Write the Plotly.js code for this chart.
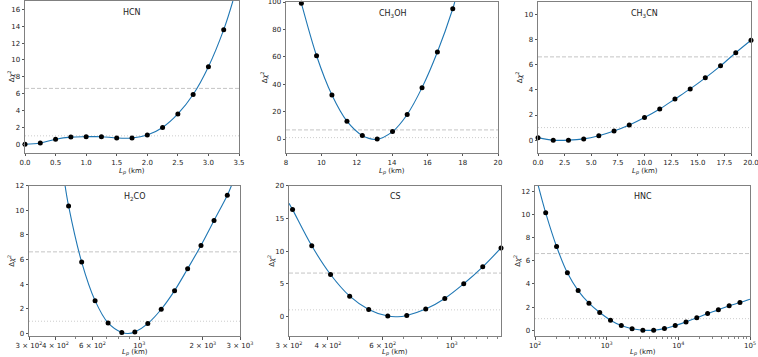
<!DOCTYPE html>
<html>
<head>
<meta charset="utf-8">
<script src="https://cdn.plot.ly/plotly-3.0.1.min.js"></script>
<style>html,body{margin:0;padding:0;background:#fff}#chart{width:758px;height:357px}</style>
</head>
<body>
<div id="chart"></div>
<script>
// ---- data ----
const hcnX = [0, 0.25, 0.5, 0.75, 1.0, 1.25, 1.5, 1.75, 2.0, 2.25, 2.5, 2.75, 3.0, 3.25];
const hcnY = [0.0, 0.15, 0.6, 0.85, 0.9, 0.9, 0.75, 0.75, 1.1, 2.0, 3.6, 5.9, 9.2, 13.6];
const hcnCurveX = [0, 0.25, 0.5, 0.75, 1.0, 1.25, 1.5, 1.75, 2.0, 2.25, 2.5, 2.75, 3.0, 3.25, 3.4];
const hcnCurveY = [0.0, 0.15, 0.6, 0.85, 0.9, 0.9, 0.75, 0.75, 1.1, 2.0, 3.6, 5.9, 9.2, 13.6, 17.0];

const ch3ohX = [8.87, 9.73, 10.6, 11.45, 12.32, 13.16, 14.03, 14.86, 15.7, 16.57, 17.44];
const ch3ohY = [99, 60.8, 32.1, 13, 2.5, 0.0, 5.4, 17.9, 37.5, 63.5, 95.1];
const ch3ohCurveX = [8.8, 8.87, 9.73, 10.6, 11.45, 12.32, 13.1, 14.03, 14.86, 15.7, 16.57, 17.44, 17.55];
const ch3ohCurveY = [102, 99, 60.8, 32.1, 13, 2.5, -0.3, 5.4, 17.9, 37.5, 63.5, 95.1, 100];

const ch3cnX = [0, 1.43, 2.86, 4.29, 5.71, 7.14, 8.57, 10.0, 11.43, 12.86, 14.29, 15.71, 17.14, 18.57, 20.0];
const ch3cnY = [0.2, 0.0, 0.0, 0.1, 0.35, 0.72, 1.2, 1.8, 2.48, 3.28, 4.08, 4.96, 5.92, 6.96, 7.95];

const h2coX = [462, 533, 617, 711, 826, 952, 1097, 1270, 1469, 1694, 1960, 2260, 2612];
const h2coY = [10.36, 5.8, 2.67, 0.86, 0.08, 0.13, 0.81, 1.97, 3.48, 5.26, 7.15, 9.17, 11.22];
const h2coCurveX = [443, 462, 533, 617, 711, 826, 885, 952, 1097, 1270, 1469, 1694, 1960, 2260, 2612, 2761];
const h2coCurveY = [12.2, 10.36, 5.8, 2.67, 0.86, 0.08, 0.0, 0.13, 0.81, 1.97, 3.48, 5.26, 7.15, 9.17, 11.22, 12.2];

const csX = [308, 355, 408, 470, 541, 623, 717, 825, 950, 1093, 1258, 1440];
const csY = [16.34, 10.8, 6.41, 3.1, 1.07, 0.05, 0.15, 1.12, 2.75, 4.99, 7.58, 10.48];
const csCurveX = [300, 308, 355, 408, 470, 541, 623, 670, 717, 825, 950, 1093, 1258, 1440];
const csCurveY = [17.3, 16.34, 10.8, 6.41, 3.1, 1.07, 0.05, -0.05, 0.15, 1.12, 2.75, 4.99, 7.58, 10.48];

const hncX = [141, 200, 283, 400, 566, 800, 1131, 1600, 2263, 3200, 4525, 6400, 9051, 12800, 18102, 25600, 36204, 51200, 72408];
const hncY = [10.15, 7.24, 4.96, 3.43, 2.34, 1.53, 0.87, 0.40, 0.12, 0.0, 0.0, 0.14, 0.40, 0.72, 1.07, 1.44, 1.76, 2.11, 2.39];
const hncCurveX = [111, 141, 200, 283, 400, 566, 800, 1131, 1600, 2263, 3200, 4525, 6400, 9051, 12800, 18102, 25600, 36204, 51200, 72408, 100000];
const hncCurveY = [12.5, 10.15, 7.24, 4.96, 3.43, 2.34, 1.53, 0.87, 0.40, 0.12, 0.0, 0.0, 0.14, 0.40, 0.72, 1.07, 1.44, 1.76, 2.11, 2.39, 2.68];

const molecules = ["HCN", "CH<sub>3</sub>OH", "CH<sub>3</sub>CN", "H<sub>2</sub>CO", "CS", "HNC"];
const thresholds = [1.0, 6.63];

const h2coTickVals = [300, 400, 600, 1000, 2000, 3000];
const h2coTickText = ["3 × 10<sup>2</sup>", "4 × 10<sup>2</sup>", "6 × 10<sup>2</sup>", "10<sup>3</sup>", "2 × 10<sup>3</sup>", "3 × 10<sup>3</sup>"];
const csTickVals = [300, 400, 600, 1000];
const csTickText = ["3 × 10<sup>2</sup>", "4 × 10<sup>2</sup>", "6 × 10<sup>2</sup>", "10<sup>3</sup>"];
const hncTickVals = [100, 1000, 10000, 100000];
const hncTickText = ["10<sup>2</sup>", "10<sup>3</sup>", "10<sup>4</sup>", "10<sup>5</sup>"];

// ---- build ----
const W = 758, H = 357;
const fx = p => p / W, fy = p => 1 - p / H;
const panels = [
  {px: [hcnX, hcnY], cv: [hcnCurveX, hcnCurveY], xd: [25, 239], yd: [1, 152.7], yt: 10.5, xt: 171},
  {px: [ch3ohX, ch3ohY], cv: [ch3ohCurveX, ch3ohCurveY], xd: [286, 498], yd: [2, 152.7], yt: 264, xt: 171},
  {px: [ch3cnX, ch3cnY], cv: [ch3cnX, ch3cnY], xd: [538, 751], yd: [2, 152.7], yt: 519, xt: 171},
  {px: [h2coX, h2coY], cv: [h2coCurveX, h2coCurveY], xd: [29, 240], yd: [185.7, 336], yt: 11, xt: 352.3},
  {px: [csX, csY], cv: [csCurveX, csCurveY], xd: [289, 501], yd: [185.7, 336], yt: 271, xt: 352.3},
  {px: [hncX, hncY], cv: [hncCurveX, hncCurveY], xd: [535, 750], yd: [185.7, 336], yt: 517, xt: 352.3}
];

const font = {family: "DejaVu Sans, sans-serif", size: 7, color: "#222"};
const titleFont = {family: "DejaVu Sans, sans-serif", size: 7, color: "#222"};
const axisBase = {
  showline: true, mirror: true, linecolor: "#808080", linewidth: 1,
  ticks: "outside", ticklen: 2.5, tickwidth: 1, tickcolor: "#555",
  showgrid: false, zeroline: false, tickfont: font, tickangle: 0,
  ticklabeloverflow: "allow", automargin: false
};
const xTitle = "<i>L<sub>p</sub></i> (km)";
const yTitle = "Δ<i>χ</i><sup>2</sup>";

const minorStyle = {ticks: "outside", ticklen: 1.5, tickwidth: 0.8, tickcolor: "#666"};
const xCfg = [
  {range: [0, 3.5], tickvals: [0, 0.5, 1, 1.5, 2, 2.5, 3, 3.5], tickformat: ".1f"},
  {range: [8, 20], tickvals: [8, 10, 12, 14, 16, 18, 20]},
  {range: [0, 20], tickvals: [0, 2.5, 5, 7.5, 10, 12.5, 15, 17.5, 20], tickformat: ".1f"},
  {type: "log", range: [Math.log10(300), Math.log10(3000)], tickvals: h2coTickVals, ticktext: h2coTickText,
   minor: Object.assign({tickvals: [500, 700, 800, 900]}, minorStyle)},
  {type: "log", range: [Math.log10(300), Math.log10(1440)], tickvals: csTickVals, ticktext: csTickText,
   minor: Object.assign({tickvals: [500, 700, 800, 900, 1100, 1200, 1300, 1400]}, minorStyle)},
  {type: "log", range: [2, 5], tickvals: hncTickVals, ticktext: hncTickText,
   minor: Object.assign({tickvals: [200,300,400,500,600,700,800,900,2000,3000,4000,5000,6000,7000,8000,9000,20000,30000,40000,50000,60000,70000,80000,90000]}, minorStyle)}
];
const yCfg = [
  {range: [-1, 17], tickvals: [0, 2, 4, 6, 8, 10, 12, 14, 16]},
  {range: [-10, 100], tickvals: [0, 20, 40, 60, 80, 100]},
  {range: [-1, 11], tickvals: [0, 2, 4, 6, 8, 10]},
  {range: [-0.2, 12], tickvals: [0, 2, 4, 6, 8, 10, 12]},
  {range: [-3, 20], tickvals: [0, 5, 10, 15, 20]},
  {range: [-0.5, 12.5], tickvals: [0, 2, 4, 6, 8, 10, 12]}
];

const traces = [];
const layout = {
  width: W, height: H, margin: {l: 0, r: 0, t: 0, b: 0},
  paper_bgcolor: "#fff", plot_bgcolor: "#fff", showlegend: false,
  font: font, shapes: [], annotations: []
};

panels.forEach((p, i) => {
  const n = i + 1;
  const xa = "x" + (n === 1 ? "" : n), ya = "y" + (n === 1 ? "" : n);
  const xk = "xaxis" + (n === 1 ? "" : n), yk = "yaxis" + (n === 1 ? "" : n);
  traces.push({x: p.cv[0], y: p.cv[1], xaxis: xa, yaxis: ya, mode: "lines",
    line: {color: "#1f77b4", width: 1.1, shape: "spline", smoothing: 1.0}, hoverinfo: "skip"});
  traces.push({x: p.px[0], y: p.px[1], xaxis: xa, yaxis: ya, mode: "markers",
    marker: {color: "#000", size: 5}, cliponaxis: false});
  layout[xk] = Object.assign({}, axisBase, xCfg[i], {domain: [fx(p.xd[0]), fx(p.xd[1])], anchor: ya});
  layout[yk] = Object.assign({}, axisBase, yCfg[i], {domain: [fy(p.yd[1]), fy(p.yd[0])], anchor: xa});
  thresholds.forEach((t, k) => {
    layout.shapes.push({type: "line", xref: xa + " domain", yref: ya, x0: 0, x1: 1, y0: t, y1: t,
      line: {color: k === 0 ? "#cccccc" : "#c4c4c4", width: 1, dash: k === 0 ? "1px,2px" : "4px,2px"}, layer: "below"});
  });
  layout.annotations.push({text: molecules[i], xref: xa + " domain", yref: ya + " domain",
    x: 0.5, y: 0.97, xanchor: "center", yanchor: "top", showarrow: false,
    font: {family: font.family, size: 8, color: "#222"}});
  // axis titles
  layout.annotations.push({text: xTitle, xref: "paper", yref: "paper",
    x: fx((p.xd[0] + p.xd[1]) / 2), y: fy(p.xt), xanchor: "center", yanchor: "middle",
    showarrow: false, font: titleFont});
  layout.annotations.push({text: yTitle, xref: "paper", yref: "paper", textangle: -90,
    x: fx(p.yt), y: fy((p.yd[0] + p.yd[1]) / 2), xanchor: "center", yanchor: "middle",
    showarrow: false, font: titleFont});
});

Plotly.newPlot("chart", traces, layout, {staticPlot: true});
</script>
</body>
</html>
